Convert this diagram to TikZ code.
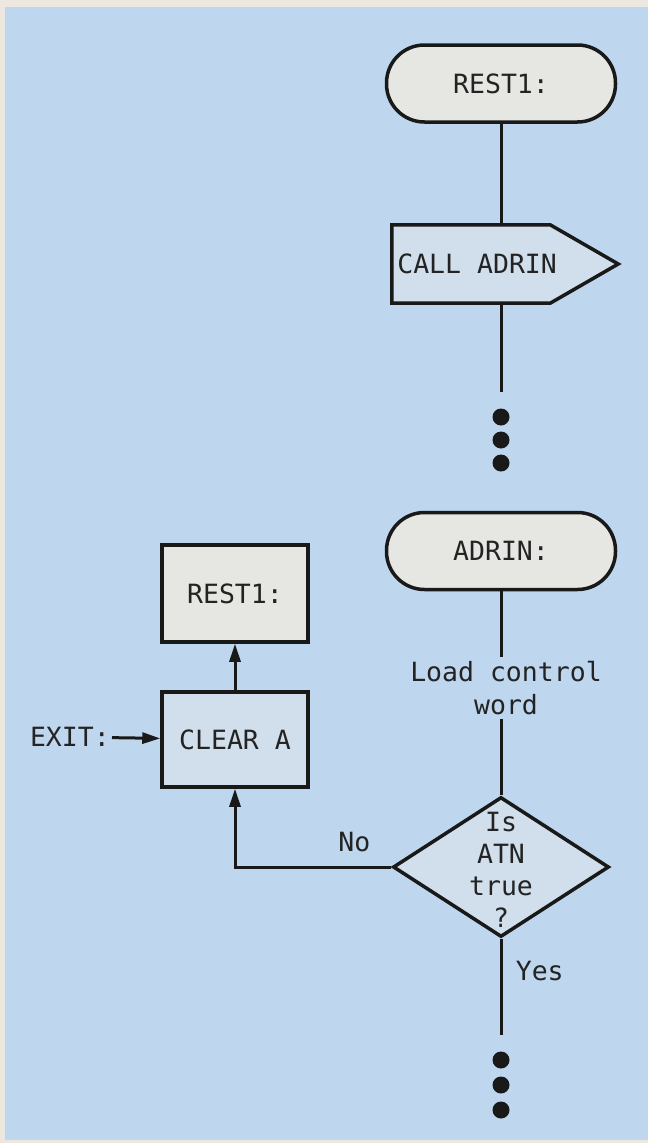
\documentclass[tikz,border=0pt]{standalone}
\usepackage{fontspec}
\setmonofont{DejaVu Sans Mono}
\usetikzlibrary{arrows.meta,positioning,calc,shapes.geometric}
\definecolor{chartblue}{RGB}{190,214,238}
\definecolor{chartpaper}{RGB}{236,232,224}
\definecolor{termfill}{RGB}{230,230,226}
\definecolor{procfill}{RGB}{208,223,235}
\definecolor{inkgray}{RGB}{35,35,35}
\tikzset{
  flowtext/.style={font=\ttfamily\fontsize{26.5}{33}\selectfont, text=inkgray},
  terminal/.style={draw=black!90, line width=3.5pt, rounded corners=38pt, fill=termfill, minimum width=229pt, minimum height=77pt, flowtext},
  procbox/.style={draw=black!90, line width=3.5pt, fill=procfill, minimum width=146pt, flowtext},
  flowline/.style={draw=black!90, line width=3pt},
  flowarrow/.style={flowline, -{Triangle[length=18pt,width=11pt]}},
  moredot/.style={circle, fill=black!90, inner sep=0pt, minimum size=17pt}
}

\begin{document}
\begin{tikzpicture}[x=1pt,y=-1pt]
  \fill[chartpaper] (0,0) rectangle (648,1143);
  \fill[chartblue] (5,7) rectangle (648,1140);
  \useasboundingbox (0,0) rectangle (648,1143);

  \node[terminal] (rest) at (501,83.5) {REST1:};
  \node[minimum width=226pt, minimum height=78pt] (call) at (505,264) {};
  \draw[draw=black!90, line width=3.5pt, fill=procfill] (call.north west) -- ($(call.north east)+(-68,0)$) -- (call.east) -- ($(call.south east)+(-68,0)$) -- (call.south west) -- cycle;
  \node[flowtext, anchor=west] (calltext) at ([xshift=2pt]call.west) {CALL ADRIN};
  \coordinate (callend) at (501,392);
  \node[moredot] (d1) at (501,417) {};
  \node[moredot] (d2) at (501,440) {};
  \node[moredot] (d3) at (501,463) {};

  \node[terminal] (adrin) at (501,551) {ADRIN:};
  \node[flowtext, align=center, inner sep=4pt] (load) at (506,688) {Load control\\word};
  \node[diamond, draw=black!90, line width=3.5pt, fill=procfill, minimum width=216pt, minimum height=140pt, inner sep=0pt] (atn) at (501,867) {};
  \node[flowtext, font=\ttfamily\fontsize{26.5}{32}\selectfont, align=center] (atntext) at ([yshift=-3pt]atn.center) {Is\\ATN\\true\\?};
  \coordinate (yesend) at (501,1035);
  \node[moredot] (e1) at (501,1060) {};
  \node[moredot] (e2) at (501,1085) {};
  \node[moredot] (e3) at (501,1110) {};

  \node[procbox, fill=termfill, minimum height=97pt] (restbox) at (235,593.5) {REST1:};
  \node[procbox, minimum height=95pt] (clear) at (235,739.5) {CLEAR A};
  \node[flowtext, anchor=east, inner xsep=2pt] (exit) at (112,737) {EXIT:};

  \draw[flowline] (rest.south) -- (rest.south |- call.north);
  \draw[flowline] (rest.south |- call.south) -- (callend);
  \draw[flowline] (adrin.south) -- (adrin.south |- load.north);
  \draw[flowline] (load.south -| atn.north) -- (atn.north);
  \draw[flowline] (atn.south) -- (yesend) node[pos=0.34, right, xshift=10pt, flowtext] {Yes};
  \draw[flowarrow] (atn.west) -| (clear.south) node[pos=0.118, above, yshift=10pt, flowtext] {No};
  \draw[flowarrow] (clear) -- (restbox);
  \draw[flowarrow] (exit) -- (clear);
\end{tikzpicture}
\end{document}
